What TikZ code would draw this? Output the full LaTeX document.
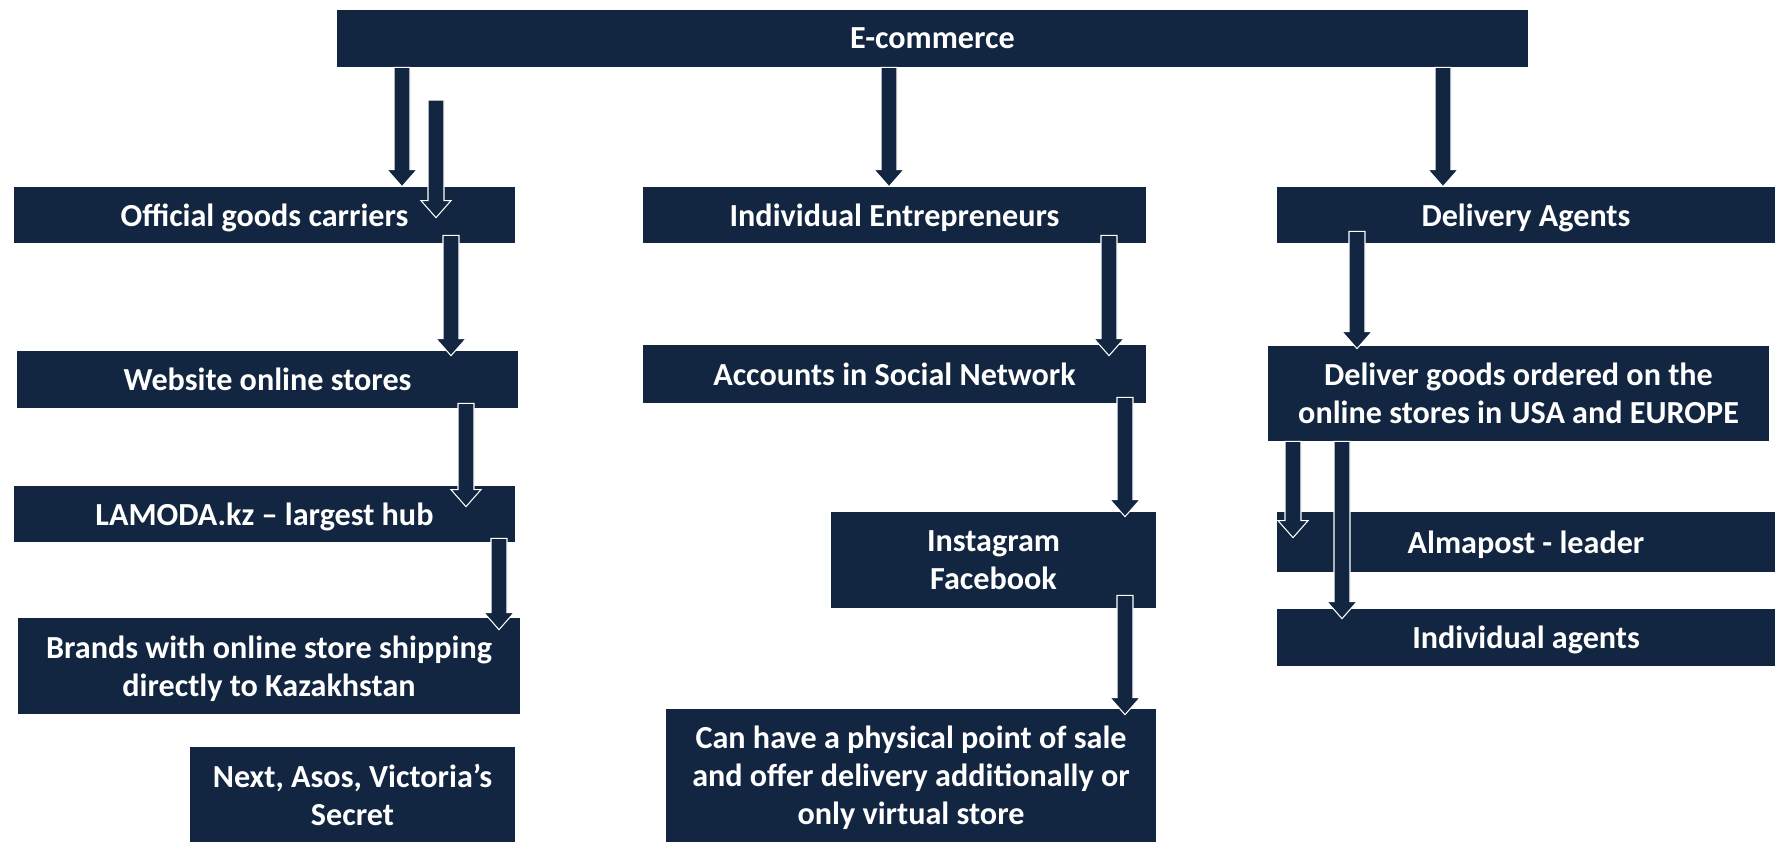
\documentclass[tikz,border=0pt]{standalone}
\usepackage{fontspec}
\setmainfont{Carlito}
\usetikzlibrary{calc}
\definecolor{navy}{RGB}{18,38,65}
\tikzset{
  box/.style={fill=navy, text=white, inner sep=0pt, align=center, text depth=0pt,
    font=\fontsize{18.3}{21.6}\selectfont\bfseries},
  arrowbody/.style={fill=navy, draw=white, line width=0.6pt, line join=miter}
}
% block arrow: #1 tail point, #2 tip point (x is taken from the tail)
\newcommand{\barrow}[2]{%
  \path[arrowbody] let \p1=#1, \p2=#2 in
    (\x1-0.16cm,\y1) -- (\x1+0.16cm,\y1) -- (\x1+0.16cm,\y2+0.34cm)
    -- (\x1+0.3cm,\y2+0.34cm) -- (\x1,\y2) -- (\x1-0.3cm,\y2+0.34cm)
    -- (\x1-0.16cm,\y2+0.34cm) -- cycle;}

\begin{document}
\begin{tikzpicture}[x=0.02cm,y=-0.02cm]
  \useasboundingbox (0,0) rectangle (1775,842);
  % top
  \node[box, minimum width=23.82cm, minimum height=1.14cm] (ecom) at (932.5,38.5) {E-commerce};
  % first level
  \node[box, minimum width=10.02cm, minimum height=1.12cm] (occ) at (264.5,215) {Official goods carriers};
  \node[box, minimum width=10.06cm, minimum height=1.12cm] (ie) at (894.5,215) {Individual Entrepreneurs};
  \node[box, minimum width=9.96cm, minimum height=1.12cm] (da) at (1526,215) {Delivery Agents};
  % left column
  \node[box, minimum width=10.02cm, minimum height=1.14cm] (web) at (267.5,379.5) {Website online stores};
  \node[box, minimum width=10.02cm, minimum height=1.12cm] (lam) at (264.5,514) {LAMODA.kz -- largest hub};
  \node[box, minimum width=10.04cm, minimum height=1.92cm] (brd) at (269,666) {Brands with online store shipping\\directly to Kazakhstan};
  \node[box, minimum width=6.5cm, minimum height=1.9cm] (nxt) at (352.5,794.5) {Next, Asos, Victoria’s\\Secret};
  % middle column
  \node[box, minimum width=10.06cm, minimum height=1.16cm] (acc) at (894.5,374) {Accounts in Social Network};
  \node[box, minimum width=6.5cm, minimum height=1.92cm] (ins) at (993.5,560) {Instagram\\Facebook};
  \node[box, minimum width=9.8cm, minimum height=2.66cm] (can) at (911,775.5) {Can have a physical point of sale\\and offer delivery additionally or\\only virtual store};
  % right column
  \node[box, minimum width=10.02cm, minimum height=1.9cm] (dlv) at (1518.5,393.5) {Deliver goods ordered on the\\online stores in USA and EUROPE};
  \node[box, minimum width=9.96cm, minimum height=1.2cm] (alm) at (1526,542) {Almapost - leader};
  \node[box, minimum width=9.96cm, minimum height=1.14cm] (ind) at (1526,637.5) {Individual agents};
  % arrows
  \coordinate (occin) at (436,100);
  \barrow{(402,0 |- ecom.south)}{(occ.north)}
  \barrow{(occin)}{($(occ.north)+(0,31)$)}
  \barrow{($(451,0 |- occ.south)+(0,-8)$)}{($(web.north)+(0,5)$)}
  \barrow{($(466,0 |- web.south)+(0,-5)$)}{($(lam.north)+(0,21)$)}
  \barrow{($(499,0 |- lam.south)+(0,-4)$)}{($(brd.north)+(0,12)$)}
  \barrow{(889,0 |- ecom.south)}{(ie.north)}
  \barrow{($(1109,0 |- ie.south)+(0,-8)$)}{($(acc.north)+(0,11)$)}
  \barrow{($(1125,0 |- acc.south)+(0,-6)$)}{($(ins.north)+(0,5)$)}
  \barrow{($(1125,0 |- ins.south)+(0,-13)$)}{($(can.north)+(0,6)$)}
  \barrow{(1443,0 |- ecom.south)}{(da.north)}
  \barrow{($(1357,0 |- da.south)+(0,-12)$)}{($(dlv.north)+(0,3)$)}
  \barrow{(1293,0 |- dlv.south)}{($(alm.north)+(0,26)$)}
  \barrow{(1342,0 |- dlv.south)}{($(ind.north)+(0,10)$)}
\end{tikzpicture}
\end{document}
